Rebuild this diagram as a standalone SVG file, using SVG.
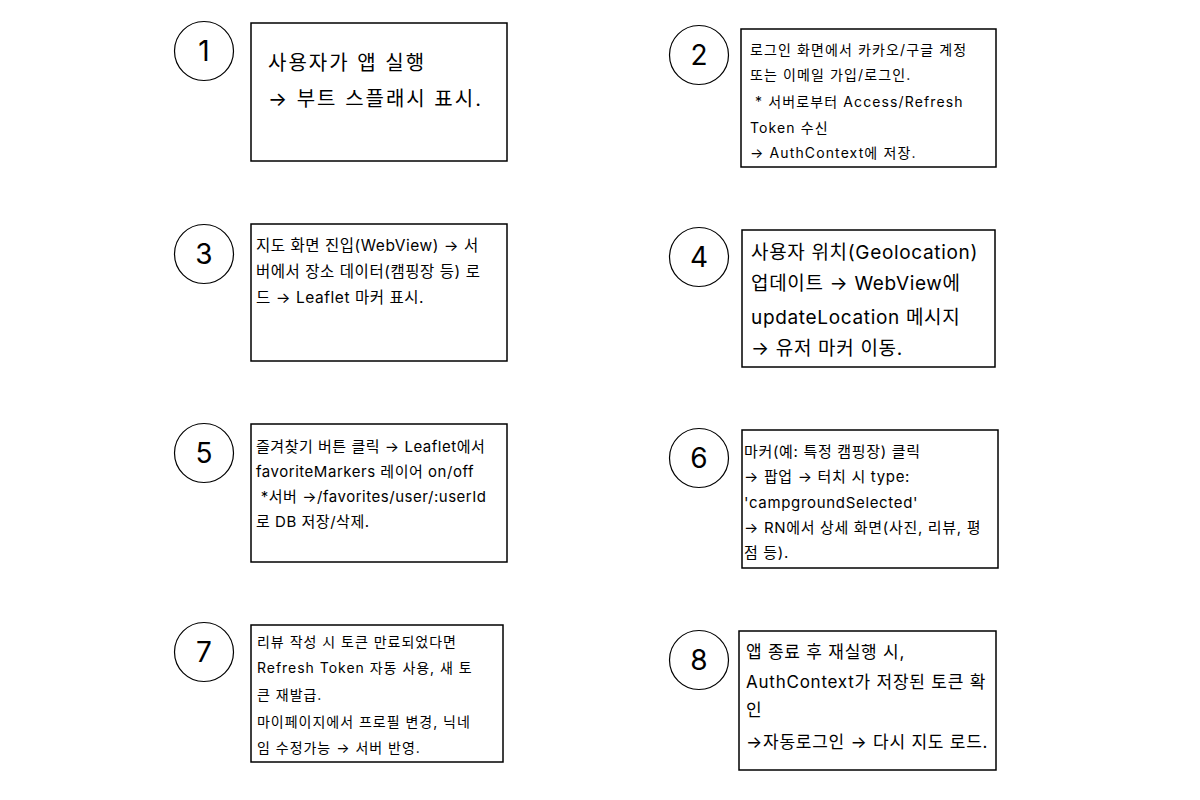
<svg xmlns="http://www.w3.org/2000/svg" width="1200" height="800" viewBox="0 0 1200 800">
<style>
.bg{fill:#ffffff}
.box{fill:#ffffff;stroke:#000000;stroke-width:1.5}
.circ{fill:#ffffff;stroke:#000000;stroke-width:1.2}
.num{font-family:Inter,"Noto Sans CJK KR",sans-serif;font-size:28px;fill:#000000;text-anchor:middle;dominant-baseline:central}
.t{font-family:Inter,"Noto Sans CJK KR",sans-serif;fill:#000000;letter-spacing:0.08em}
</style>
<rect class="bg" x="0" y="0" width="1200" height="800"/>
<g id="connectors"></g>
<g id="step1">
<circle class="circ" cx="204" cy="51" r="29.5"/>
<text class="num" x="204" y="51">1</text>
<rect class="box" x="251" y="23" width="256" height="138"/>
<text class="t" font-size="20" style="letter-spacing:0.1em"><tspan x="268" y="70">사용자가 앱 실행</tspan><tspan x="268" y="106">→ 부트 스플래시 표시.</tspan></text>
</g>
<g id="step2">
<circle class="circ" cx="699" cy="55" r="29.5"/>
<text class="num" x="699" y="55">2</text>
<rect class="box" x="741" y="29" width="255" height="138"/>
<text class="t" font-size="14"><tspan x="750" y="55">로그인 화면에서 카카오/구글 계정</tspan><tspan x="750" y="80">또는 이메일 가입/로그인.</tspan><tspan x="750" y="107"> * 서버로부터 Access/Refresh</tspan><tspan x="750" y="133">Token 수신</tspan><tspan x="750" y="158">→ AuthContext에 저장.</tspan></text>
</g>
<g id="step3">
<circle class="circ" cx="204" cy="254" r="29.5"/>
<text class="num" x="204" y="254">3</text>
<rect class="box" x="251" y="224" width="256" height="137"/>
<text class="t" font-size="15.5" style="letter-spacing:0.035em"><tspan x="256" y="251">지도 화면 진입(WebView) → 서</tspan><tspan x="256" y="277">버에서 장소 데이터(캠핑장 등) 로</tspan><tspan x="256" y="303">드 → Leaflet 마커 표시.</tspan></text>
</g>
<g id="step4">
<circle class="circ" cx="699" cy="257" r="29.5"/>
<text class="num" x="699" y="257">4</text>
<rect class="box" x="742" y="230" width="253" height="137"/>
<text class="t" font-size="19" style="letter-spacing:0.035em"><tspan x="751" y="259">사용자 위치(Geolocation)</tspan><tspan x="751" y="290">업데이트 → WebView에</tspan><tspan x="751" y="324">updateLocation 메시지</tspan><tspan x="751" y="355">→ 유저 마커 이동.</tspan></text>
</g>
<g id="step5">
<circle class="circ" cx="204" cy="453" r="29.5"/>
<text class="num" x="204" y="453">5</text>
<rect class="box" x="251" y="424" width="256" height="138"/>
<text class="t" font-size="15" style="letter-spacing:0.035em"><tspan x="256" y="452">즐겨찾기 버튼 클릭 → Leaflet에서</tspan><tspan x="256" y="477">favoriteMarkers 레이어 on/off</tspan><tspan x="256" y="502"> *서버 →/favorites/user/:userId</tspan><tspan x="256" y="527">로 DB 저장/삭제.</tspan></text>
</g>
<g id="step6">
<circle class="circ" cx="699" cy="458" r="29.5"/>
<text class="num" x="699" y="458">6</text>
<rect class="box" x="742" y="430" width="256" height="138"/>
<text class="t" font-size="15" style="letter-spacing:0.045em"><tspan x="744" y="457">마커(예: 특정 캠핑장) 클릭</tspan><tspan x="744" y="482">→ 팝업 → 터치 시 type:</tspan><tspan x="744" y="508">'campgroundSelected'</tspan><tspan x="744" y="533">→ RN에서 상세 화면(사진, 리뷰, 평</tspan><tspan x="744" y="558">점 등).</tspan></text>
</g>
<g id="step7">
<circle class="circ" cx="204" cy="652" r="29.5"/>
<text class="num" x="204" y="652">7</text>
<rect class="box" x="251" y="625" width="252" height="137"/>
<text class="t" font-size="14" style="letter-spacing:0.07em"><tspan x="257" y="647">리뷰 작성 시 토큰 만료되었다면</tspan><tspan x="257" y="673">Refresh Token 자동 사용, 새 토</tspan><tspan x="257" y="700">큰 재발급.</tspan><tspan x="257" y="727">마이페이지에서 프로필 변경, 닉네</tspan><tspan x="257" y="753">임 수정가능 → 서버 반영.</tspan></text>
</g>
<g id="step8">
<circle class="circ" cx="699" cy="660" r="29.5"/>
<text class="num" x="699" y="660">8</text>
<rect class="box" x="739" y="631" width="257" height="139"/>
<text class="t" font-size="17" style="letter-spacing:0.045em"><tspan x="746" y="658">앱 종료 후 재실행 시,</tspan><tspan x="746" y="688">AuthContext가 저장된 토큰 확</tspan><tspan x="746" y="716">인</tspan><tspan x="746" y="748">→자동로그인 → 다시 지도 로드.</tspan></text>
</g>
</svg>
